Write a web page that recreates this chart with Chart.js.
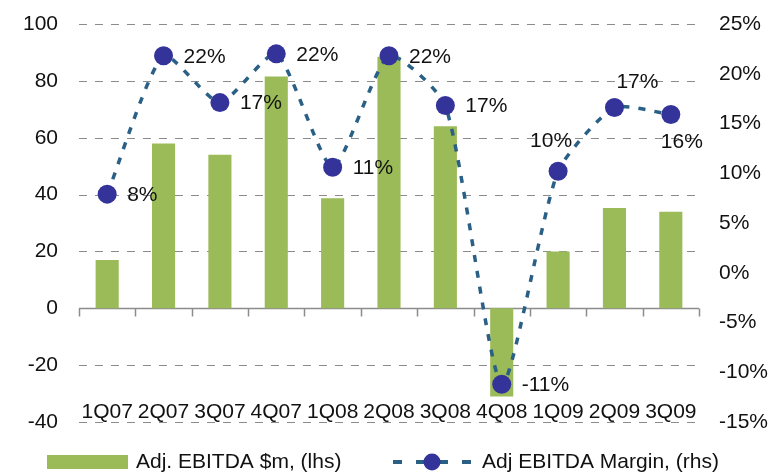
<!DOCTYPE html>
<html>
<head>
<meta charset="utf-8">
<script src="https://cdn.jsdelivr.net/npm/chart.js@4/dist/chart.umd.min.js"></script>
<style>
    html, body { margin: 0; padding: 0; background: #fff; }
    #wrap { width: 774px; height: 474px; }
</style>
</head>
<body>
<div id="wrap"><canvas id="chart" width="774" height="474"></canvas></div>
<script>
// Chart data
const quarters = ["1Q07", "2Q07", "3Q07", "4Q07", "1Q08", "2Q08", "3Q08", "4Q08", "1Q09", "2Q09", "3Q09"];
const ebitda = [17, 58, 54, 81.5, 38.7, 88.5, 64, -31, 20, 35.3, 34];
const margin = [7.9, 21.8, 17.1, 22, 10.6, 21.8, 16.8, -11.2, 10.2, 16.6, 15.9];
const leftTicks = [-40, -20, 0, 20, 40, 60, 80, 100];
const rightTicks = [-15, -10, -5, 0, 5, 10, 15, 20, 25];

// where each margin label sits relative to its point
const labelSpot = ["right", "right", "right", "right", "right", "right", "right", "right", "above", "aboveRight", "below"];

const FONT = "'Liberation Sans', Arial, sans-serif";
const FSIZE = 21;
const GREEN = "#9BBB59";
const NAVY = "#333399";
const LINE = "#2A5F86";

//#region plugins
// dashed grid + solid zero axis with tick marks at category boundaries
const gridAndAxis = {
    id: "gridAndAxis",
    beforeDatasetsDraw(chart) {
        const ctx = chart.ctx;
        const yScale = chart.scales.y;
        const area = chart.chartArea;
        ctx.save();
        ctx.strokeStyle = "#8c8c8c";
        ctx.lineWidth = 1;
        ctx.setLineDash([8, 8]);
        leftTicks.forEach((v) => {
            if (v === 0) return;
            const py = Math.round(yScale.getPixelForValue(v)) + 0.5;
            ctx.beginPath();
            ctx.moveTo(area.left, py);
            ctx.lineTo(area.right, py);
            ctx.stroke();
        });
        ctx.setLineDash([]);

        const y0 = Math.round(yScale.getPixelForValue(0)) + 0.5;
        ctx.lineWidth = 1.5;
        ctx.beginPath();
        ctx.moveTo(area.left, y0);
        ctx.lineTo(area.right, y0);
        const step = (area.right - area.left) / quarters.length;
        for (let i = 0; i <= quarters.length; i++) {
            const px = Math.round(area.left + i * step) + 0.5;
            ctx.moveTo(px, y0);
            ctx.lineTo(px, y0 + 8);
        }
        ctx.stroke();
        ctx.restore();
    }
};

// percent labels next to the margin points
const marginLabels = {
    id: "marginLabels",
    afterDatasetsDraw(chart) {
        const ctx = chart.ctx;
        const meta = chart.getDatasetMeta(1);
        ctx.save();
        ctx.font = FSIZE + "px " + FONT;
        ctx.fillStyle = "#111";
        ctx.textBaseline = "middle";
        meta.data.forEach((pt, i) => {
            const txt = Math.round(margin[i]) + "%";
            const spot = labelSpot[i];
            if (spot === "right") {
                ctx.textAlign = "left";
                ctx.fillText(txt, pt.x + 20, pt.y + 1);
            } else if (spot === "above") {
                ctx.textAlign = "center";
                ctx.fillText(txt, pt.x - 7, pt.y - 30);
            } else if (spot === "aboveRight") {
                ctx.textAlign = "center";
                ctx.fillText(txt, pt.x + 23, pt.y - 25);
            } else {
                ctx.textAlign = "center";
                ctx.fillText(txt, pt.x + 11, pt.y + 28);
            }
        });
        ctx.restore();
    }
};

// legend under the chart
const bottomLegend = {
    id: "bottomLegend",
    afterDraw(chart) {
        const ctx = chart.ctx;
        const ly = 462;
        ctx.save();
        ctx.fillStyle = GREEN;
        ctx.fillRect(47, 455, 81, 14);

        ctx.strokeStyle = LINE;
        ctx.lineWidth = 4;
        ctx.setLineDash([9, 14]);
        ctx.beginPath();
        ctx.moveTo(393, ly);
        ctx.lineTo(473, ly);
        ctx.stroke();
        ctx.setLineDash([]);
        ctx.fillStyle = NAVY;
        ctx.beginPath();
        ctx.arc(432, ly, 8.5, 0, Math.PI * 2);
        ctx.fill();

        ctx.font = FSIZE + "px " + FONT;
        ctx.fillStyle = "#111";
        ctx.textAlign = "left";
        ctx.textBaseline = "middle";
        ctx.fillText("Adj. EBITDA $m, (lhs)", 136, ly);
        ctx.fillText("Adj EBITDA Margin, (rhs)", 482, ly);
        ctx.restore();
    }
};
//#endregion

const noPad = (scale, w) => {
    scale.width = w;
    scale.paddingTop = 0;
    scale.paddingBottom = 0;
};

const data = {
    labels: quarters,
    datasets: [
        {
            type: "bar",
            label: "Adj. EBITDA $m, (lhs)",
            data: ebitda,
            backgroundColor: GREEN,
            borderWidth: 0,
            barPercentage: 0.41,
            categoryPercentage: 1,
            yAxisID: "y",
            order: 1
        },
        {
            type: "line",
            label: "Adj EBITDA Margin, (rhs)",
            data: margin,
            borderColor: LINE,
            borderWidth: 3.5,
            borderDash: [7, 9],
            tension: 0.2,
            pointRadius: 9.5,
            pointBackgroundColor: NAVY,
            pointBorderWidth: 0,
            yAxisID: "y1",
            order: 0
        }
    ]
};

const config = {
    type: "bar",
    data: data,
    plugins: [gridAndAxis, marginLabels, bottomLegend],
    options: {
        responsive: false,
        animation: false,
        layout: { padding: { top: 24, left: 0, right: 0, bottom: 52 } },
        plugins: {
            legend: { display: false },
            tooltip: { enabled: false }
        },
        scales: {
            x: {
                position: { y: -32 },
                offset: true,
                grid: { display: false, drawTicks: false },
                border: { display: false },
                ticks: {
                    font: { family: FONT, size: FSIZE },
                    color: "#111",
                    padding: 0,
                    maxRotation: 0,
                    autoSkip: false
                }
            },
            y: {
                position: "left",
                min: leftTicks[0],
                max: leftTicks[leftTicks.length - 1],
                afterBuildTicks: (scale) => { scale.ticks = leftTicks.map((v) => ({ value: v })); },
                grid: { display: false, drawTicks: false },
                border: { display: false },
                ticks: {
                    font: { family: FONT, size: FSIZE },
                    color: "#111",
                    padding: 21
                },
                afterFit: (scale) => noPad(scale, 79)
            },
            y1: {
                position: "right",
                min: rightTicks[0],
                max: rightTicks[rightTicks.length - 1],
                afterBuildTicks: (scale) => { scale.ticks = rightTicks.map((v) => ({ value: v })); },
                grid: { display: false, drawTicks: false },
                border: { display: false },
                ticks: {
                    font: { family: FONT, size: FSIZE },
                    color: "#111",
                    padding: 20,
                    callback: (v) => v + "%"
                },
                afterFit: (scale) => noPad(scale, 75)
            }
        }
    }
};

const ebitdaChart = new Chart(document.getElementById("chart"), config);
</script>
</body>
</html>
